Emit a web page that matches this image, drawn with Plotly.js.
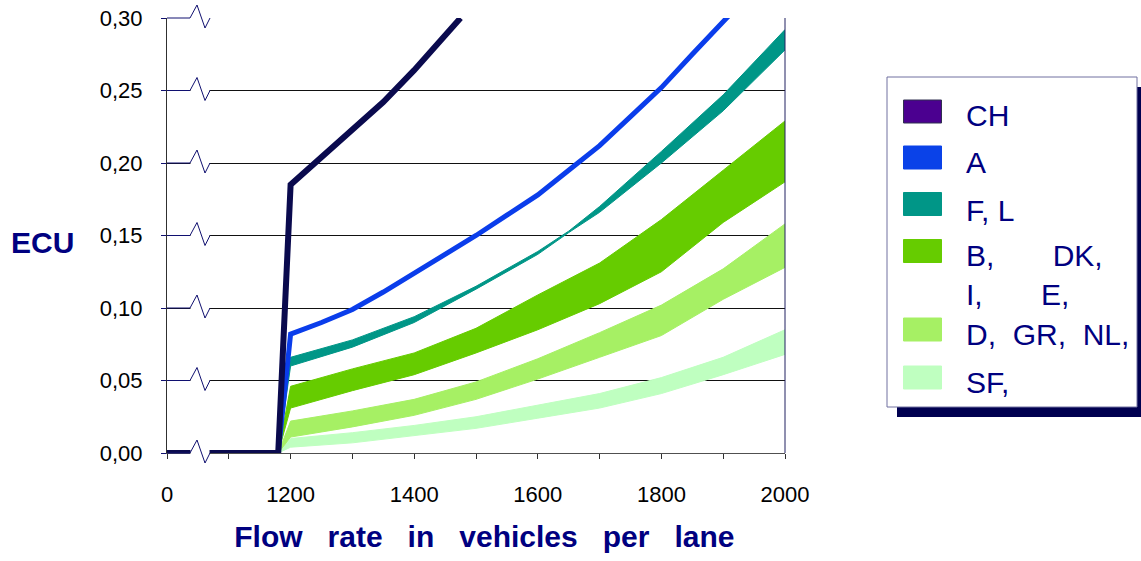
<!DOCTYPE html>
<html>
<head>
<meta charset="utf-8">
<script src="https://cdn.plot.ly/plotly-3.0.1.min.js"></script>
<style>
  html, body { margin: 0; padding: 0; background: #ffffff; }
  #chart { width: 1141px; height: 561px; }
</style>
</head>
<body>
<div id="chart"></div>
<script>
// ---- Data (x axis is broken: the position 1000 is labelled "0") ----
const chX   = [1000, 1180, 1200, 1250, 1300, 1350, 1400, 1450, 1475];
const chY   = [0, 0, 0.185, 0.204, 0.222, 0.242, 0.264, 0.287, 0.300];

const aX    = [1180, 1200, 1250, 1300, 1350, 1400, 1450, 1500, 1550, 1600, 1650, 1700, 1750, 1800, 1850, 1900, 1910];
const aY    = [0, 0.082, 0.090, 0.099, 0.111, 0.124, 0.136, 0.150, 0.164, 0.178, 0.195, 0.212, 0.232, 0.252, 0.275, 0.297, 0.302];

const flX     = [1180, 1200, 1300, 1400, 1500, 1600, 1650, 1700, 1800, 1900, 2000];
const flLow   = [0, 0.060, 0.073, 0.090, 0.113, 0.137, 0.152, 0.166, 0.200, 0.236, 0.278];
const flHigh  = [0, 0.066, 0.078, 0.094, 0.115, 0.139, 0.153, 0.170, 0.208, 0.247, 0.292];

const bandX   = [1180, 1200, 1300, 1400, 1500, 1600, 1700, 1800, 1900, 2000];
const bLow    = [0, 0.031, 0.043, 0.054, 0.069, 0.085, 0.103, 0.125, 0.159, 0.187];
const bHigh   = [0, 0.046, 0.058, 0.069, 0.086, 0.109, 0.131, 0.161, 0.195, 0.229];
const dLow    = [0, 0.011, 0.018, 0.026, 0.037, 0.051, 0.066, 0.081, 0.106, 0.128];
const dHigh   = [0, 0.022, 0.029, 0.037, 0.049, 0.065, 0.083, 0.102, 0.127, 0.158];
const sfLow   = [0, 0.004, 0.007, 0.012, 0.017, 0.024, 0.031, 0.041, 0.054, 0.068];
const sfHigh  = [0, 0.010, 0.014, 0.019, 0.025, 0.033, 0.041, 0.052, 0.066, 0.085];

const xTickVals = [1000, 1100, 1200, 1300, 1400, 1500, 1600, 1700, 1800, 1900, 2000];
const xTickText = ['0', '', '1200', '', '1400', '', '1600', '', '1800', '', '2000'];
const yTickVals = [0, 0.05, 0.10, 0.15, 0.20, 0.25, 0.30];

const NB = '\u00a0';
const legendLabels = ['CH', 'A', 'F, L',
  'B,' + NB.repeat(7) + 'DK,<br>I,' + NB.repeat(7) + 'E,',
  'D,' + NB + ' GR,' + NB + ' NL,', 'SF,'];
const legendColors = ['#4B0090', '#0A42E8', '#009687', '#66CC00', '#A6F064', '#BFFFC0'];

// ---- Styles ----
const NAVY = '#000080';
const FONT = '"Liberation Sans", Arial, Helvetica, sans-serif';
const colCH = '#0A0A4E', colA = '#0A3DEB', colFL = '#009687', colB = '#66CC00', colD = '#A6F064', colSF = '#BFFFC0';

function band(x, lo, hi, color, name) {
  return [
    {x: x, y: lo, type: 'scatter', mode: 'lines', line: {color: color, width: 1}, showlegend: false, hoverinfo: 'skip', name: name + ' low'},
    {x: x, y: hi, type: 'scatter', mode: 'lines', line: {color: color, width: 1}, fill: 'tonexty', fillcolor: color, showlegend: false, name: name}
  ];
}

const traces = [].concat(
  band(bandX, sfLow, sfHigh, colSF, 'SF'),
  band(bandX, dLow, dHigh, colD, 'D, GR, NL'),
  band(bandX, bLow, bHigh, colB, 'B, DK, I, E'),
  band(flX, flLow, flHigh, colFL, 'F, L'),
  [
    {x: aX, y: aY, type: 'scatter', mode: 'lines', line: {color: colA, width: 5}, showlegend: false, name: 'A'},
    {x: chX, y: chY, type: 'scatter', mode: 'lines', line: {color: colCH, width: 6}, showlegend: false, name: 'CH'}
  ]
);

const L = 167, R = 785, T = 18, B = 453;
const W = R - L, H = B - T;
const px = v => (v - L) / W;
const py = v => (B - v) / H;

const shapes = [];
// white column hiding the gridlines where the axis break is drawn
shapes.push({type: 'rect', layer: 'above', xref: 'paper', xsizemode: 'pixel', xanchor: 0, x0: 23.5, x1: 42.5,
             yref: 'paper', ysizemode: 'pixel', yanchor: 0, y0: -3.5, y1: 436,
             fillcolor: '#ffffff', line: {width: 0}});
// break symbols on every gridline
yTickVals.forEach(v => {
  shapes.push({type: 'path', layer: 'above', xref: 'paper', xsizemode: 'pixel', xanchor: 0,
               yref: 'paper', ysizemode: 'pixel', yanchor: v / 0.30,
               path: 'M0,0 L23,0 L30,13 L38,-10 L43,0', line: {color: '#101070', width: 1}});
});
// right border
shapes.push({type: 'line', xref: 'paper', yref: 'paper', x0: 1, x1: 1, y0: 0, y1: 1, line: {color: '#202060', width: 1}});

// legend shadow and box
shapes.push({type: 'rect', xref: 'paper', yref: 'paper', x0: px(897), x1: px(1150), y0: py(417), y1: py(87),
             fillcolor: '#000050', line: {width: 0}});
shapes.push({type: 'rect', xref: 'paper', yref: 'paper', x0: px(887), x1: px(1137), y0: py(407), y1: py(77),
             fillcolor: '#ffffff', line: {color: '#7070a0', width: 1}});
// legend swatches
const swatchTop = [100, 146, 192.5, 239.5, 318, 366];
swatchTop.forEach((t, i) => {
  shapes.push({type: 'rect', xref: 'paper', yref: 'paper', x0: px(903.5), x1: px(941.5), y0: py(t + 23), y1: py(t),
               fillcolor: legendColors[i],
               line: {color: i === 0 ? '#303050' : legendColors[i], width: 1}});
});

const annotations = [];
annotations.push({text: '<b>ECU</b>', xref: 'paper', yref: 'paper', x: px(42.5), y: py(243),
                  xanchor: 'center', yanchor: 'middle', showarrow: false, font: {family: FONT, size: 30, color: NAVY}});
const legendTextY = [116, 162, 210, 275, 334, 382];
legendLabels.forEach((t, i) => {
  annotations.push({text: t, xref: 'paper', yref: 'paper', x: px(964), y: py(legendTextY[i]),
                    xanchor: 'left', yanchor: 'middle', align: 'left', showarrow: false,
                    font: {family: FONT, size: 30, color: NAVY}});
});

const layout = {
  width: 1141, height: 561,
  margin: {l: L, r: 1141 - R, t: T, b: 561 - B, pad: 0},
  paper_bgcolor: '#ffffff', plot_bgcolor: '#ffffff',
  separators: ',.',
  showlegend: false,
  font: {family: FONT, size: 22, color: '#000000'},
  xaxis: {
    range: [1000, 2000], tickmode: 'array', tickvals: xTickVals, ticktext: xTickText,
    showgrid: false, zeroline: false, showline: true, linecolor: '#505050', linewidth: 1,
    ticks: 'outside', ticklen: 5, tickcolor: '#303030', tickwidth: 1,
    ticklabelstandoff: 17,
    tickfont: {family: FONT, size: 22, color: '#000000'},
    title: {text: '<b>' + NB + NB + 'Flow' + NB + NB + ' rate' + NB + NB + ' in' + NB + NB + ' vehicles' + NB + NB + ' per' + NB + NB + ' lane</b>', standoff: 19,
            font: {family: FONT, size: 30, color: NAVY}},
    fixedrange: true
  },
  yaxis: {
    range: [0, 0.30], tickmode: 'array', tickvals: yTickVals, tickformat: '.2f',
    showgrid: true, gridcolor: '#111111', gridwidth: 1,
    zeroline: false, showline: true, linecolor: '#303030', linewidth: 1,
    ticks: 'outside', ticklen: 5, tickcolor: '#101070', tickwidth: 1,
    ticklabelstandoff: 14,
    tickfont: {family: FONT, size: 22, color: '#000000'},
    fixedrange: true
  },
  shapes: shapes,
  annotations: annotations
};

Plotly.newPlot('chart', traces, layout, {displayModeBar: false, staticPlot: true});
</script>
</body>
</html>
